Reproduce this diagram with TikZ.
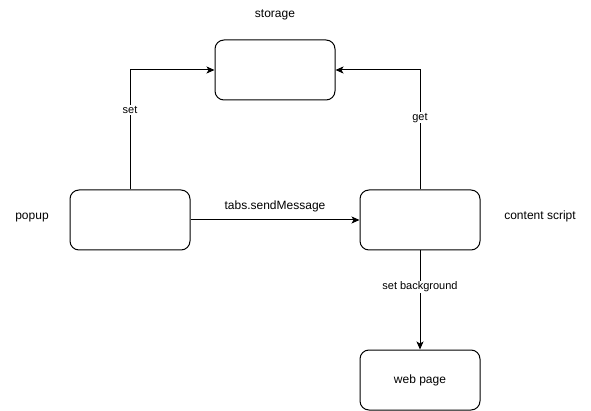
\documentclass[tikz,border=0pt]{standalone}
\usepackage{fontspec}
\setmainfont{Liberation Sans}
\usetikzlibrary{arrows.meta}

\tikzset{
  box/.style={draw, line width=1pt, rounded corners=9pt, minimum width=120pt, minimum height=60pt, font=\fontsize{12}{14}\selectfont},
  lbl/.style={font=\fontsize{12}{14}\selectfont},
  elbl/.style={fill=white, inner sep=1pt, font=\fontsize{11}{13}\selectfont},
  conn/.style={line width=1pt, -{Stealth[length=8pt, width=7pt, inset=2pt]}}
}

\begin{document}
\begin{tikzpicture}[x=1pt, y=-1pt]
		\useasboundingbox (0,0) rectangle (591,411);

		\node[box] (storage) at (275,70) {};
		\node[box] (popup) at (130,220) {};
		\node[box] (content) at (420,220) {};
		\node[box] (webpage) at (420,380) {web page};

		\node[lbl] (storagelbl) at (275,15) {storage};
		\node[lbl] (popuplbl) at (32,218) {popup};
		\node[lbl] (contentlbl) at (540,216) {content script};

		\draw[conn] (popup.north) |- node[elbl, pos=0.333] {set} (storage.west);
		\draw[conn] (content.north) |- node[elbl, pos=0.3] {get} (storage.east);
		\draw[conn] (popup.east) -- node[lbl, midway, above, yshift=4pt] {tabs.sendMessage} (content.west);
		\draw[conn] (content.south) -- node[elbl, pos=0.37] {set background} (webpage.north);

	\end{tikzpicture}
\end{document}
